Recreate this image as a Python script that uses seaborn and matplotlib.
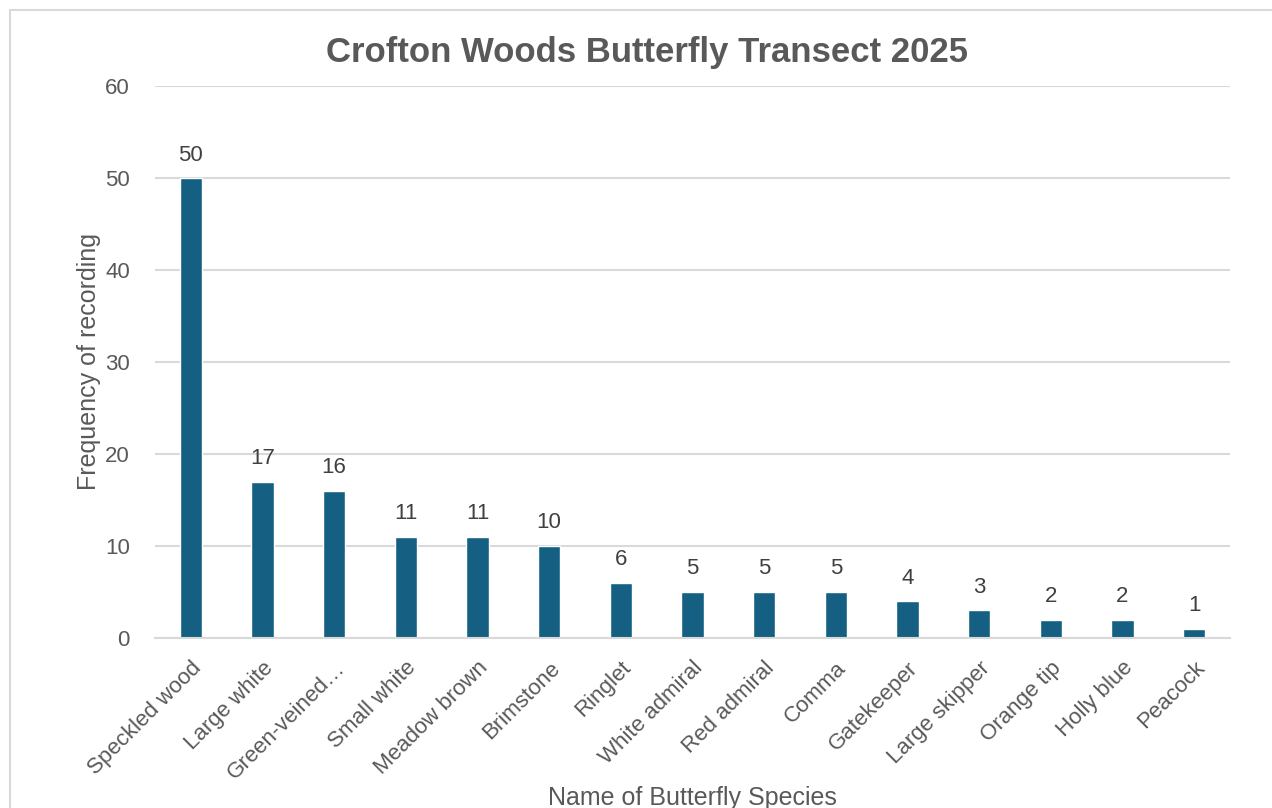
import matplotlib
matplotlib.use("Agg")
import matplotlib.pyplot as plt
from matplotlib.lines import Line2D
import seaborn as sns
import pandas as pd

species = [
    "Speckled wood", "Large white", "Green-veined\u2026", "Small white",
    "Meadow brown", "Brimstone", "Ringlet", "White admiral", "Red admiral",
    "Comma", "Gatekeeper", "Large skipper", "Orange tip", "Holly blue", "Peacock",
]
counts = [50, 17, 16, 11, 11, 10, 6, 5, 5, 5, 4, 3, 2, 2, 1]
y_ticks = [0, 10, 20, 30, 40, 50, 60]

BAR = "#156082"
TEXT = "#595959"
GRID = "#d9d9d9"

sns.set_theme(style="white")
plt.rcParams["font.family"] = ["Liberation Sans", "DejaVu Sans"]

df = pd.DataFrame({"species": species, "count": counts})

fig = plt.figure(figsize=(12.72, 8.08), dpi=100)
ax = fig.add_axes([155 / 1272, 1 - 638 / 808, (1230 - 155) / 1272, (638 - 86) / 808])

sns.barplot(data=df, x="species", y="count", color=BAR, width=0.31,
            saturation=1, ax=ax, zorder=3)

ax.set_xlim(-0.5, len(species) - 0.5)
ax.set_ylim(0, 60)
ax.set_yticks(y_ticks)
ax.yaxis.grid(True, color=GRID, linewidth=1.5, zorder=0)
ax.xaxis.grid(False)
for s in ["top", "right", "left"]:
    ax.spines[s].set_visible(False)
ax.spines["bottom"].set_color(GRID)
ax.spines["bottom"].set_linewidth(1.5)
ax.spines["bottom"].set_zorder(4)

# y ticks: labels only
ax.tick_params(axis="y", length=0, pad=18, labelsize=16, labelcolor=TEXT)

# x ticks: boundary marks between categories, labels centred under bars
ax.set_xticks(range(len(species)))
ax.set_xticklabels(species, rotation=45, ha="right", rotation_mode="anchor")
ax.tick_params(axis="x", which="major", length=0, pad=14, labelsize=16, labelcolor=TEXT)
ax.set_xticks([i - 0.5 for i in range(len(species) + 1)], minor=True)
ax.tick_params(axis="x", which="minor", length=8, width=1.5, color=GRID, direction="out")

ax.bar_label(ax.containers[0], labels=[str(v) for v in counts], padding=9,
             fontsize=16, color="#404040")

ax.set_xlabel("Name of Butterfly Species", fontsize=18, color=TEXT, labelpad=2)
ax.set_ylabel("Frequency of recording", fontsize=18, color=TEXT, labelpad=3)

fig.suptitle("Crofton Woods Butterfly Transect 2025", x=647 / 1272, y=1 - 36 / 808,
             fontsize=25, fontweight="bold", color=TEXT, va="top")

# outer chart frame
fx, fy = 10 / 1272, 1 - 10 / 808
fig.add_artist(Line2D([fx, 1], [fy, fy], transform=fig.transFigure, color=GRID, linewidth=1.5))
fig.add_artist(Line2D([fx, fx], [0, fy], transform=fig.transFigure, color=GRID, linewidth=1.5))

fig.savefig("out.png", dpi=100, facecolor="white")
